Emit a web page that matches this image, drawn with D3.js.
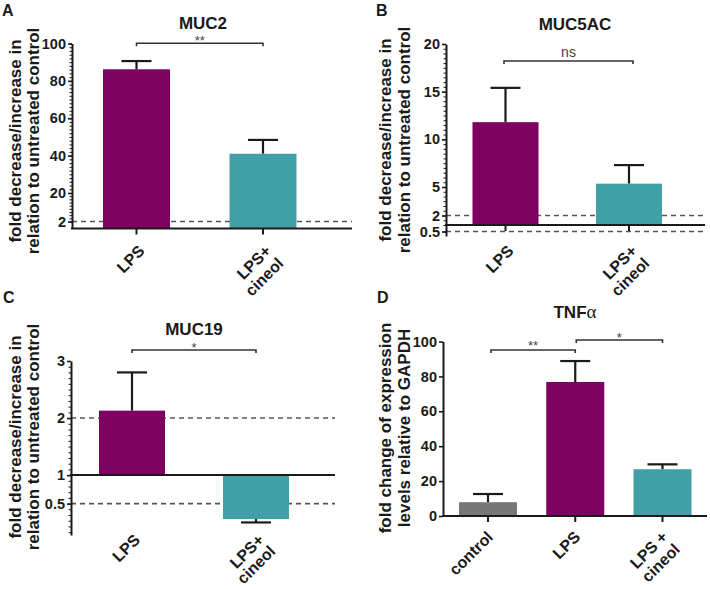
<!DOCTYPE html>
<html><head><meta charset="utf-8">
<script src="https://cdn.jsdelivr.net/npm/d3@7"></script>
<style>body{margin:0;background:#fff}svg{display:block}text{font-family:"Liberation Sans",Arial,sans-serif}</style>
</head><body><svg id="c" width="710" height="589"></svg>
<script>
// ---------- data ----------
const muc2Categories = ["LPS", "LPS+\ncineol"];
const muc2Values = [86.2, 41.0];
const muc2Errors = [4.4, 7.4];
const muc2Ticks = [2, 20, 40, 60, 80, 100];
const muc2RefLines = [2];
const muc2Sig = ["**"];

const muc5acCategories = ["LPS", "LPS+\ncineol"];
const muc5acValues = [11.8, 5.35];
const muc5acErrors = [3.6, 1.95];
const muc5acTicks = [0.5, 2, 5, 10, 15, 20];
const muc5acRefLines = [2, 0.5];
const muc5acSig = ["ns"];

const muc19Categories = ["LPS", "LPS+\ncineol"];
const muc19Values = [2.13, 0.23];
const muc19Errors = [0.67, 0.06];
const muc19Ticks = [0.5, 1, 2, 3];
const muc19RefLines = [2, 0.5];
const muc19Sig = ["*"];

const tnfCategories = ["control", "LPS", "LPS +\ncineol"];
const tnfValues = [7.9, 76.8, 26.8];
const tnfErrors = [4.7, 12.0, 2.8];
const tnfTicks = [0, 20, 40, 60, 80, 100];
const tnfSig = ["**", "*"];

// ---------- styles ----------
const PURPLE = "#7e0061", TEAL = "#41a0a5", GRAY = "#777777", INK = "#1a1a1a";
function colorOf(c) { return c === "control" ? GRAY : (c === "LPS" ? PURPLE : TEAL); }

const svg = d3.select("#c");

function range(a, b, s) { const r = []; for (let v = a; v <= b + 1e-9; v += s) r.push(+v.toFixed(4)); return r; }

function panel(cfg) {
  const g = svg.append("g");
  const y = d3.scaleLinear().domain(cfg.yDomain).range(cfg.yRange);
  const x = d3.scalePoint().domain(cfg.categories).range(cfg.xRange);
  const bw = cfg.barW;
  const base = cfg.baseline;
  const errEnd = i => cfg.values[i] >= base ? cfg.values[i] + cfg.errors[i] : cfg.values[i] - cfg.errors[i];

  // reference dashed lines
  g.selectAll("line.ref").data(cfg.refs).join("line")
    .attr("x1", cfg.axisX).attr("x2", cfg.axisRight)
    .attr("y1", d => y(d)).attr("y2", d => y(d))
    .attr("stroke", "#555").attr("stroke-width", 1.6).attr("stroke-dasharray", "5,4");

  // error bars
  const eb = g.selectAll("g.eb").data(cfg.categories).join("g");
  eb.append("line")
    .attr("x1", d => x(d)).attr("x2", d => x(d))
    .attr("y1", (d, i) => y(cfg.values[i])).attr("y2", (d, i) => y(errEnd(i)))
    .attr("stroke", INK).attr("stroke-width", 2.2);
  eb.append("line")
    .attr("x1", d => x(d) - 15).attr("x2", d => x(d) + 15)
    .attr("y1", (d, i) => y(errEnd(i))).attr("y2", (d, i) => y(errEnd(i)))
    .attr("stroke", INK).attr("stroke-width", 2.2);

  // bars
  g.selectAll("rect.bar").data(cfg.categories).join("rect")
    .attr("x", d => x(d) - bw / 2).attr("width", bw)
    .attr("y", (d, i) => Math.min(y(cfg.values[i]), y(base)))
    .attr("height", (d, i) => Math.abs(y(cfg.values[i]) - y(base)))
    .attr("fill", d => colorOf(d));

  // minor ticks
  const gm = g.append("g").attr("transform", `translate(${cfg.axisX},0)`)
    .call(d3.axisLeft(y).tickValues(cfg.minor).tickSize(2.5).tickFormat(""));
  gm.select(".domain").remove();
  gm.selectAll("line").attr("stroke", INK).attr("stroke-width", 1);

  // y axis
  const ga = g.append("g").attr("transform", `translate(${cfg.axisX},0)`)
    .call(d3.axisLeft(y).tickValues(cfg.ticks).tickSize(4).tickSizeOuter(0).tickPadding(2).tickFormat(d => String(d)));
  ga.select(".domain").attr("stroke", INK).attr("stroke-width", 2);
  ga.selectAll(".tick line").attr("stroke", INK).attr("stroke-width", 1.6);
  ga.selectAll("text").attr("font-size", 14.5).attr("font-weight", "bold").attr("fill", INK)
    .attr("font-family", "Liberation Sans, Arial, sans-serif");

  // x baseline
  g.append("line").attr("x1", cfg.axisX - 1).attr("x2", cfg.axisRight)
    .attr("y1", y(cfg.xAxisAt)).attr("y2", y(cfg.xAxisAt))
    .attr("stroke", INK).attr("stroke-width", 2);
  if (cfg.catTicks) {
    g.selectAll("line.ct").data(cfg.categories).join("line")
      .attr("x1", d => x(d)).attr("x2", d => x(d))
      .attr("y1", y(cfg.xAxisAt)).attr("y2", y(cfg.xAxisAt) + 6)
      .attr("stroke", INK).attr("stroke-width", 2);
  }

  // category labels
  const lab = g.selectAll("text.cat").data(cfg.categories).join("text")
    .attr("transform", d => `translate(${x(d) + cfg.labDx},${cfg.labY}) rotate(-45)`)
    .attr("text-anchor", "end").attr("font-size", 16).attr("font-weight", "bold").attr("fill", INK);
  lab.each(function (d) {
    const parts = d.split("\n");
    const t = d3.select(this);
    parts.forEach((p, k) => t.append("tspan").attr("x", 0).attr("dy", k === 0 ? 0 : cfg.labLH).text(p));
  });

  // significance brackets
  cfg.sig.forEach((s, k) => {
    const br = cfg.brackets[k];
    const x1 = x(cfg.categories[br.a]) + (br.o1 || 0), x2 = x(cfg.categories[br.b]) + (br.o2 || 0);
    g.append("path").attr("d", `M${x1},${br.y + 3}V${br.y}H${x2}V${br.y + 3}`)
      .attr("fill", "none").attr("stroke", "#333").attr("stroke-width", 1.6);
    g.append("text").attr("x", (x1 + x2) / 2).attr("y", br.ty).attr("text-anchor", "middle")
      .attr("font-size", s === "ns" ? 14 : 13).attr("fill", "#444").text(s);
  });

  // title
  const tt = g.append("text").attr("x", cfg.titleX).attr("y", cfg.titleY).attr("text-anchor", "middle")
    .attr("font-size", 17).attr("font-weight", "bold").attr("fill", INK);
  tt.append("tspan").text(cfg.title);
  if (cfg.titleGreek) tt.append("tspan").attr("font-family", "Liberation Serif, serif").attr("font-weight", "normal").attr("font-size", 19).text(cfg.titleGreek);

  // panel letter
  g.append("text").attr("x", cfg.letterX).attr("y", cfg.letterY).attr("font-size", 16).attr("font-weight", "bold")
    .attr("fill", INK).text(cfg.letter);

  // y title
  cfg.yTitle.forEach((line, k) => {
    g.append("text").attr("transform", `translate(${cfg.yTitleX[k]},${cfg.yTitleY}) rotate(-90)`)
      .attr("text-anchor", "middle").attr("font-size", 17).attr("font-weight", "bold").attr("fill", INK).text(line);
  });
}

const yTitleMuc = ["fold decrease/increase in", "relation to untreated control"];

panel({
  letter: "A", letterX: 2, letterY: 16, title: "MUC2", titleX: 203, titleY: 29,
  yTitle: yTitleMuc, yTitleX: [21, 39], yTitleY: 141,
  categories: muc2Categories, values: muc2Values, errors: muc2Errors,
  ticks: muc2Ticks, refs: muc2RefLines, sig: muc2Sig, minor: range(2, 100, 2),
  yDomain: [1, 2, 20, 100], yRange: [228.5, 221.5, 193, 43.5],
  xRange: [136.5, 263], barW: 67, axisX: 72, axisRight: 352, baseline: 1, xAxisAt: 1, catTicks: true,
  labDx: 9, labY: 252, labLH: "1.1em",
  brackets: [{ a: 0, b: 1, y: 43.3, ty: 45 }]
});

panel({
  letter: "B", letterX: 376, letterY: 16, title: "MUC5AC", titleX: 575, titleY: 30,
  yTitle: yTitleMuc, yTitleX: [391, 410], yTitleY: 140,
  categories: muc5acCategories, values: muc5acValues, errors: muc5acErrors,
  ticks: muc5acTicks, refs: muc5acRefLines, sig: muc5acSig, minor: range(0.5, 20, 0.5),
  yDomain: [0.3, 0.5, 1, 5, 20], yRange: [236, 231.5, 225, 187, 44],
  xRange: [505.5, 629], barW: 66, axisX: 446, axisRight: 705, baseline: 1, xAxisAt: 1, catTicks: true,
  labDx: 9, labY: 252, labLH: "1.1em",
  brackets: [{ a: 0, b: 1, y: 61, ty: 57, o1: -1.5, o2: 4 }]
});

panel({
  letter: "C", letterX: 3, letterY: 303, title: "MUC19", titleX: 194, titleY: 335,
  yTitle: yTitleMuc, yTitleX: [21, 39], yTitleY: 437,
  categories: muc19Categories, values: muc19Values, errors: muc19Errors,
  ticks: muc19Ticks, refs: muc19RefLines, sig: muc19Sig, minor: range(0, 3, 0.1),
  yDomain: [-0.05, 3], yRange: [535, 361],
  xRange: [132, 256], barW: 66, axisX: 71, axisRight: 335, baseline: 1, xAxisAt: 1, catTicks: false,
  labDx: 9, labY: 541, labLH: "1.0em",
  brackets: [{ a: 0, b: 1, y: 350, ty: 352 }]
});

panel({
  letter: "D", letterX: 377, letterY: 303, title: "TNF", titleGreek: "\u03b1", titleX: 575, titleY: 318,
  yTitle: ["fold change of expression", "levels relative to GAPDH"], yTitleX: [391, 410], yTitleY: 428,
  categories: tnfCategories, values: tnfValues, errors: tnfErrors,
  ticks: tnfTicks, refs: [], sig: tnfSig, minor: [],
  yDomain: [0, 100], yRange: [516, 341.5],
  xRange: [488, 662.5], barW: 58, axisX: 443, axisRight: 707, baseline: 0, xAxisAt: 0, catTicks: true,
  labDx: 6, labY: 538, labLH: "1.1em",
  brackets: [{ a: 0, b: 1, y: 350, ty: 350, o1: 3 }, { a: 1, b: 2, y: 340, ty: 342, o1: 1 }]
});
</script></body></html>
